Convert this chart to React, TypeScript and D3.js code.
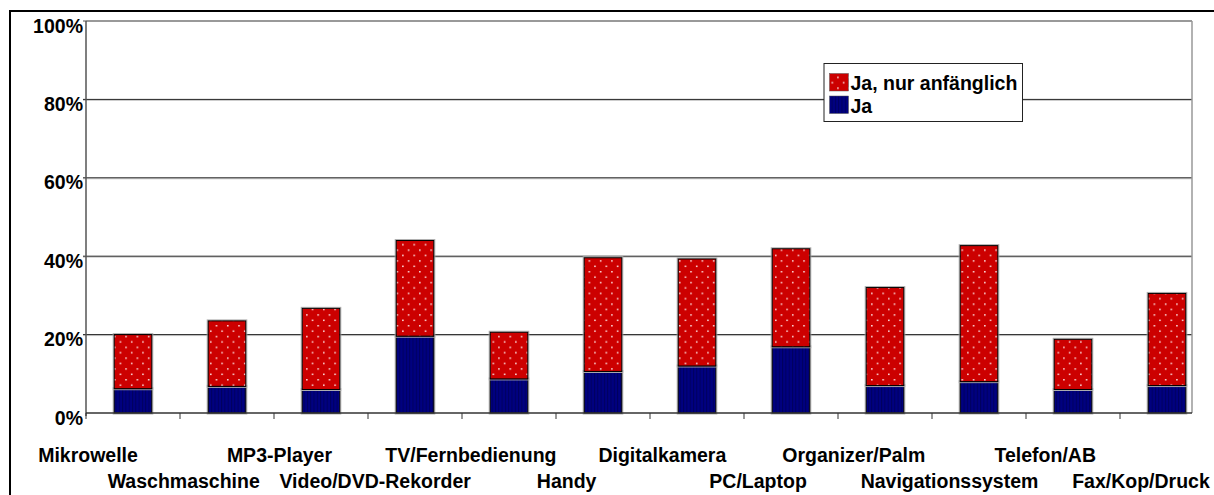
import React from "react";
import * as d3 from "d3";

const categories = [
  "Mikrowelle",
  "Waschmaschine",
  "MP3-Player",
  "Video/DVD-Rekorder",
  "TV/Fernbedienung",
  "Handy",
  "Digitalkamera",
  "PC/Laptop",
  "Organizer/Palm",
  "Navigationssystem",
  "Telefon/AB",
  "Fax/Kop/Druck",
];
const jaValues = [6.2, 6.8, 6.0, 19.6, 8.7, 10.6, 12.0, 16.9, 7.0, 8.0, 6.0, 7.0];
const anfaenglichValues = [13.8, 16.7, 20.7, 24.4, 11.9, 29.0, 27.3, 25.0, 25.0, 34.7, 12.8, 23.5];
const yTicks = [0, 20, 40, 60, 80, 100];
const seriesKeys = ["ja", "anf"];
const legendLabels = ["Ja, nur anfänglich", "Ja"];

const W = 1214;
const H = 495;
const left = 86;
const top = 21;
const bottom = 413;
const bandRight = 1214;
const frameRight = 1192;
const FONT = "'Liberation Sans', Arial, sans-serif";
const FS = 19.5;

export default function App() {
  const rows = categories.map((c, i) => ({ cat: c, ja: jaValues[i], anf: anfaenglichValues[i] }));
  const stack = d3.stack<any>().keys(seriesKeys);
  const series = stack(rows);

  const x = d3.scaleBand().domain(categories).range([left, bandRight]).paddingInner(0.6).paddingOuter(0.3);
  const y = d3.scaleLinear().domain([0, 100]).range([bottom, top]);
  const labelX = d3.scalePoint().domain(categories).range([88, 1141]);
  const step = x.step();
  const boundaries = d3.range(categories.length + 1).map((i) => left + i * step).filter((v) => v <= frameRight + 0.5);

  const fills: Record<string, string> = { ja: "url(#stripes)", anf: "url(#dots)" };

  return (
    <svg width={W} height={H} style={{ position: "absolute", left: 0, top: 0, background: "#fff" }} fontFamily={FONT}>
      <defs>
        <pattern id="dots" width="11.3" height="10.8" patternUnits="userSpaceOnUse">
          <rect width="11.3" height="10.8" fill="#CC0000" />
          <rect x="1" y="1" width="1.5" height="1.5" fill="#ffe8e8" />
          <rect x="6.65" y="6.4" width="1.5" height="1.5" fill="#ffe8e8" />
        </pattern>
        <pattern id="stripes" width="3.3" height="4" patternUnits="userSpaceOnUse">
          <rect width="3.3" height="4" fill="#000080" />
          <rect x="0" y="0" width="1" height="4" fill="#00005e" />
        </pattern>
      </defs>

      {/* outer border */}
      <rect x={10} y={11} width={1210} height={500} fill="none" stroke="#000" strokeWidth={2} />

      {/* gridlines */}
      {yTicks.filter((t) => t > 0 && t < 100).map((t) => (
        <g key={t}>
          <line x1={left - 3} x2={frameRight} y1={y(t) + 1} y2={y(t) + 1} stroke="#c8c8c8" strokeWidth={1} />
          <line x1={left - 3} x2={frameRight} y1={y(t)} y2={y(t)} stroke="#222" strokeWidth={1} />
        </g>
      ))}

      {/* plot frame */}
      <line x1={left} x2={frameRight} y1={top} y2={top} stroke="#777" strokeWidth={1.5} />
      <line x1={frameRight} x2={frameRight} y1={top} y2={bottom} stroke="#999" strokeWidth={1.5} />
      <line x1={left} x2={left} y1={top} y2={bottom + 3} stroke="#555" strokeWidth={1.5} />
      <line x1={left - 3} x2={left} y1={top} y2={top} stroke="#555" strokeWidth={1} />

      {/* bars */}
      {series.map((s) => (
        <g key={s.key}>
          {s.map((d, i) => (
            <g key={i}>
              <rect
                x={(x(categories[i]) as number) - 1}
                y={y(d[1]) - 1}
                width={x.bandwidth() + 2}
                height={y(d[0]) - y(d[1]) + 2}
                fill="none"
                stroke="#b0b0b0"
                strokeWidth={1}
              />
              <rect
                x={x(categories[i]) as number}
                y={y(d[1])}
                width={x.bandwidth()}
                height={y(d[0]) - y(d[1])}
                fill={fills[s.key]}
                stroke="#000"
                strokeWidth={1}
              />
            </g>
          ))}
        </g>
      ))}

      {/* x axis */}
      <line x1={left} x2={frameRight} y1={bottom} y2={bottom} stroke="#333" strokeWidth={1.5} />
      {boundaries.map((b, i) => (
        <line key={i} x1={b} x2={b} y1={bottom} y2={bottom + 6} stroke="#333" strokeWidth={1} />
      ))}

      {/* y labels */}
      {yTicks.map((t) => (
        <text key={t} x={83} y={y(t) + 11.5} textAnchor="end" fontSize={FS} fontWeight="bold" fill="#000">
          {t}%
        </text>
      ))}

      {/* category labels */}
      {categories.map((c, i) => (
        <text
          key={c}
          x={labelX(c) as number}
          y={i % 2 === 0 ? 461.5 : 487.5}
          textAnchor="middle"
          fontSize={FS}
          fontWeight="bold"
          fill="#000"
        >
          {c}
        </text>
      ))}

      {/* legend */}
      <g>
        <rect x={824} y={63.5} width={198.5} height={58} fill="#fff" stroke="#222" strokeWidth={1} />
        {legendLabels.map((lab, i) => (
          <g key={lab}>
            <rect
              x={829.5}
              y={73.5 + i * 22.5}
              width={19}
              height={17.5}
              fill={i === 0 ? "url(#dots)" : "url(#stripes)"}
              stroke="#555"
              strokeWidth={0.5}
            />
            <text x={850.5} y={90 + i * 22.5} fontSize={FS} fontWeight="bold" fill="#000">
              {lab}
            </text>
          </g>
        ))}
      </g>
    </svg>
  );
}
